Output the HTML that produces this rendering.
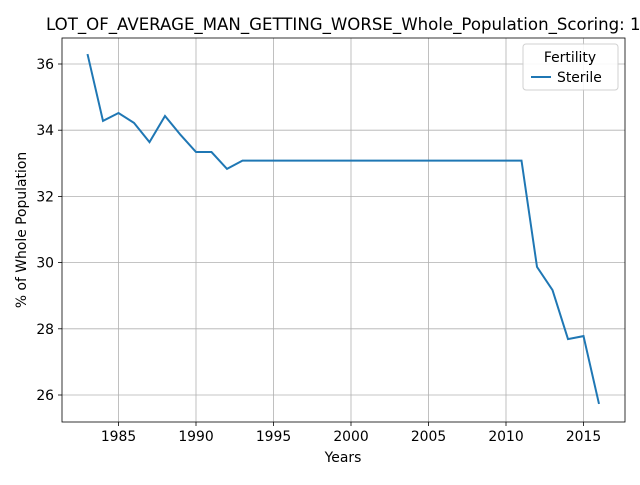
<!DOCTYPE html>
<html><head><meta charset="utf-8"><style>
body{margin:0;background:#fff;width:640px;height:480px;overflow:hidden}
svg text{font-family:"DejaVu Sans","Liberation Sans",sans-serif;fill:#000}
</style></head><body>
<svg id="chart" width="640" height="480" xmlns="http://www.w3.org/2000/svg">
<text x="46" y="30" font-size="16.6">LOT_OF_AVERAGE_MAN_GETTING_WORSE_Whole_Population_Scoring: 1</text>
<g id="grid"></g>
<g id="axes"></g>
<path id="line" fill="none" stroke="#1f77b4" stroke-width="2"/>
<rect x="62" y="38" width="563" height="384" fill="none" stroke="#000" stroke-width="0.8"/>
<text x="343" y="462" font-size="13.9" text-anchor="middle">Years</text>
<text transform="translate(26,230) rotate(-90)" font-size="13.9" text-anchor="middle">% of Whole Population</text>
<g>
<rect x="523" y="44" width="95" height="46" rx="3" fill="#fff" stroke="#ccc" stroke-width="1" opacity="0.9"/>
<text x="570" y="62" font-size="13.9" text-anchor="middle">Fertility</text>
<line x1="531" y1="77" x2="551" y2="77" stroke="#1f77b4" stroke-width="2"/>
<text x="557" y="82" font-size="13.9">Sterile</text>
</g>
</svg>
<script>
const years=[1983,1984,1985,1986,1987,1988,1989,1990,1991,1992,1993,1994,1995,1996,1997,1998,1999,2000,2001,2002,2003,2004,2005,2006,2007,2008,2009,2010,2011,2012,2013,2014,2015,2016];
const sterile=[36.30,34.28,34.52,34.22,33.64,34.43,33.86,33.34,33.34,32.83,33.08,33.08,33.08,33.08,33.08,33.08,33.08,33.08,33.08,33.08,33.08,33.08,33.08,33.08,33.08,33.08,33.08,33.08,33.08,29.87,29.17,27.69,27.78,25.73];
const xTicks=[1985,1990,1995,2000,2005,2010,2015];
const yTicks=[26,28,30,32,34,36];
const X=v=>118.5+(v-1985)*15.5;
const Y=v=>64+(36-v)*33.1;
const NS="http://www.w3.org/2000/svg";
const grid=document.getElementById('grid'),axes=document.getElementById('axes');
function mk(tag,attrs,parent){const e=document.createElementNS(NS,tag);for(const k in attrs)e.setAttribute(k,attrs[k]);parent.appendChild(e);return e;}
xTicks.forEach(t=>{
 const g=mk('line',{x1:X(t),x2:X(t),y1:38,y2:422,stroke:'#b0b0b0','stroke-width':0.8},grid);
 
 
 mk('line',{x1:X(t),x2:X(t),y1:422,y2:426,stroke:'#000','stroke-width':0.8},axes);
 const tx=mk('text',{x:X(t),y:441,'font-size':13.9,'text-anchor':'middle'},axes);tx.textContent=t;
 
 
});
yTicks.forEach(t=>{
 const g=mk('line',{x1:62,x2:625,y1:Y(t),y2:Y(t),stroke:'#b0b0b0','stroke-width':0.8},grid);
 
 
 mk('line',{x1:58,x2:62,y1:Y(t),y2:Y(t),stroke:'#000','stroke-width':0.8},axes);
 const tx=mk('text',{x:54,y:Y(t)+5,'font-size':13.9,'text-anchor':'end'},axes);tx.textContent=t;
 
 
});
document.getElementById('line').setAttribute('d',years.map((y,i)=>(i?'L':'M')+X(y)+','+Y(sterile[i])).join(''));
</script>
</body></html>
